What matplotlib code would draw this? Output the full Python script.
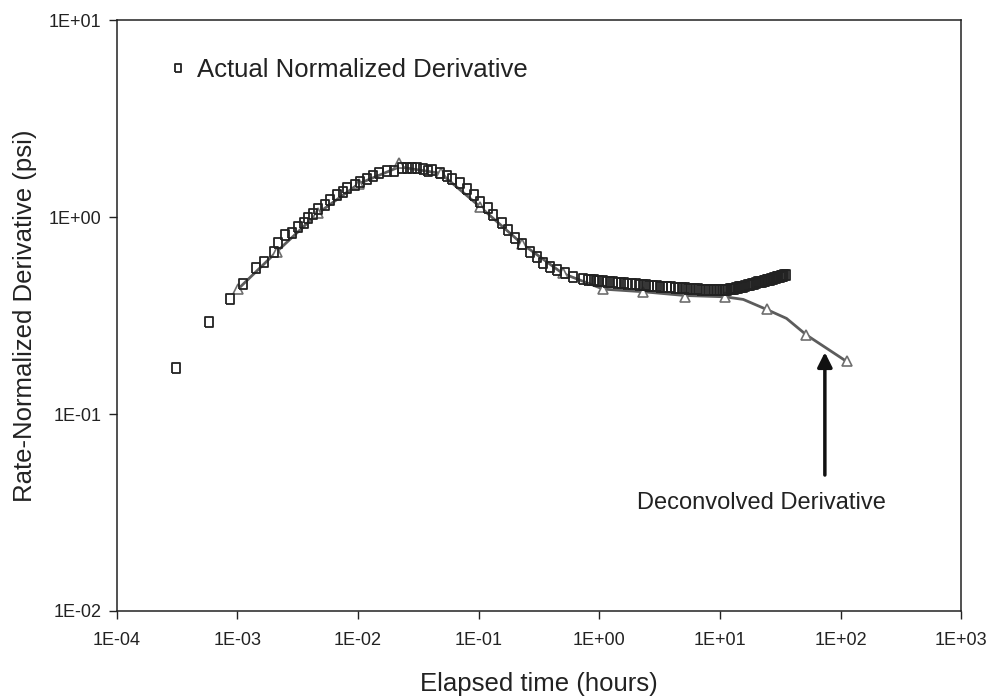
import matplotlib
matplotlib.use('Agg')
import matplotlib.pyplot as plt

# ── data ─────────────────────────────────────────────────────────────────────

actual_t = [3.10e-4, 5.83e-4, 8.71e-4, 1.11e-3, 1.43e-3, 1.66e-3, 2.01e-3, 2.17e-3,
            2.48e-3, 2.84e-3, 3.18e-3, 3.57e-3, 3.85e-3, 4.24e-3, 4.66e-3, 5.33e-3,
            5.86e-3, 6.70e-3, 7.51e-3, 8.11e-3, 9.44e-3, 1.04e-2, 1.19e-2, 1.33e-2,
            1.49e-2, 1.74e-2, 1.99e-2, 2.31e-2, 2.55e-2, 2.80e-2, 3.08e-2, 3.46e-2,
            3.80e-2, 4.08e-2, 4.78e-2, 5.43e-2, 5.97e-2, 7.00e-2, 8.05e-2, 9.14e-2,
            0.1025, 0.120, 0.132, 0.155, 0.176, 0.200, 0.227, 0.266, 0.303, 0.343,
            0.390, 0.443, 0.519, 0.608, 0.73,
            0.8, 0.85, 0.9, 0.95, 1.0, 1.07, 1.15, 1.22, 1.3, 1.4, 1.5, 1.6, 1.7,
            1.85, 2.0, 2.15, 2.3, 2.45, 2.6, 2.8, 3.0, 3.2, 3.4, 3.65, 3.9, 4.2,
            4.5, 4.8, 5.1, 5.4, 5.8, 6.2, 6.6, 7.0, 7.5, 8.0, 8.5, 9.0, 9.5, 10.0,
            10.5, 11.0, 11.5, 12.0, 12.5, 13.0, 13.5, 14.0, 14.5, 15.0, 15.5, 16.2,
            17.0, 17.7, 18.5, 19.2, 20.0, 20.7, 21.5, 22.2, 23.0, 23.7, 24.5, 25.2,
            26.0, 26.7, 27.5, 28.2, 29.0, 29.7, 30.5, 31.2, 32.0, 32.7, 33.5, 34.2,
            35.0]
actual_d = [0.171, 0.293, 0.384, 0.457, 0.551, 0.591, 0.664, 0.738,
            0.811, 0.830, 0.890, 0.933, 0.989, 1.035, 1.10, 1.15,
            1.22, 1.29, 1.34, 1.40, 1.45, 1.51, 1.56, 1.62,
            1.67, 1.71, 1.71, 1.78, 1.78, 1.78, 1.78, 1.75,
            1.72, 1.73, 1.67, 1.62, 1.56, 1.49, 1.39, 1.29,
            1.19, 1.11, 1.02, 0.93, 0.859, 0.782, 0.729, 0.664, 0.626, 0.584,
            0.557, 0.538, 0.519, 0.496, 0.486,
            0.480, 0.478, 0.477, 0.475, 0.474, 0.472, 0.470, 0.469, 0.467, 0.465,
            0.463, 0.461, 0.460, 0.457, 0.455, 0.454, 0.452, 0.450, 0.449, 0.447,
            0.446, 0.444, 0.443, 0.441, 0.440, 0.438, 0.437, 0.436, 0.435, 0.433,
            0.432, 0.431, 0.430, 0.429, 0.428, 0.427, 0.427, 0.426, 0.426, 0.426,
            0.427, 0.428, 0.429, 0.430, 0.432, 0.434, 0.436, 0.438, 0.440, 0.442,
            0.444, 0.447, 0.450, 0.454, 0.457, 0.460, 0.463, 0.466, 0.468, 0.470,
            0.472, 0.475, 0.477, 0.479, 0.481, 0.484, 0.486, 0.489, 0.491, 0.494,
            0.496, 0.498, 0.500, 0.502, 0.504, 0.506, 0.508]

deconv_t = [1.01e-3, 2.12e-3, 4.69e-3, 1.02e-2, 2.20e-2, 4.84e-2, 0.1026, 0.231,
            0.497, 1.08, 2.31, 5.12, 11.0, 24.3, 52.1, 112.0]
deconv_d = [0.430, 0.667, 1.05, 1.48, 1.89, 1.67, 1.13, 0.729,
            0.518, 0.431, 0.418, 0.394, 0.394, 0.340, 0.252, 0.185]

# smooth line drawn under the triangles
line_t = [1.01e-3, 2.12e-3, 4.69e-3, 1.02e-2, 2.20e-2, 4.84e-2, 0.1026, 0.231,
          0.497, 1.08, 2.31, 5.12, 11.0, 15.6, 24.3, 35.6, 52.1, 112.0]
line_d = [0.430, 0.667, 1.05, 1.48, 1.80, 1.67, 1.13, 0.729,
          0.518, 0.431, 0.418, 0.400, 0.394, 0.382, 0.340, 0.306, 0.252, 0.185]

decades = [1e-4, 1e-3, 1e-2, 1e-1, 1e0, 1e1, 1e2, 1e3]
x_labels = ['1E-04', '1E-03', '1E-02', '1E-01', '1E+00', '1E+01', '1E+02', '1E+03']
y_decades = [1e-2, 1e-1, 1e0, 1e1]
y_labels = ['1E-02', '1E-01', '1E+00', '1E+01']

arrow_t = 74.0
arrow_tip, arrow_tail = 0.206, 0.049

# ── figure ───────────────────────────────────────────────────────────────────

plt.rcParams['font.family'] = ['Liberation Sans', 'DejaVu Sans']

fig = plt.figure(figsize=(9.88, 6.99), dpi=100)
ax = fig.add_axes([0.118, 0.126, 0.855, 0.845])

rect = [(-0.35, -0.5), (0.35, -0.5), (0.35, 0.5), (-0.35, 0.5), (-0.35, -0.5)]

ax.plot(line_t, line_d, color='#5c5c5c', lw=2.0, zorder=2)
ax.plot(deconv_t, deconv_d, ls='none', marker='^', ms=6.8, mfc='white',
        mec='#6e6e6e', mew=1.2, zorder=3)
sq, = ax.plot(actual_t, actual_d, ls='none', marker=rect, ms=7.8, mfc='none',
              mec='#222222', mew=1.3, zorder=4)

ax.set_xscale('log')
ax.set_yscale('log')
ax.set_xlim(1e-4, 1e3)
ax.set_ylim(1e-2, 1e1)
ax.set_xticks(decades)
ax.set_xticklabels(x_labels)
ax.set_yticks(y_decades)
ax.set_yticklabels(y_labels)
ax.minorticks_off()
ax.tick_params(axis='both', direction='out', length=6, width=1.0,
               labelsize=13, colors='#222222')
ax.tick_params(axis='x', pad=9)
ax.tick_params(axis='y', pad=5)
for s in ax.spines.values():
    s.set_color('#222222')
    s.set_linewidth(1.1)

ax.set_xlabel('Elapsed time (hours)', fontsize=18.5, color='#222222')
ax.set_ylabel('Rate-Normalized Derivative (psi)', fontsize=18.5, color='#222222')
ax.xaxis.set_label_coords(0.5, -0.104)
ax.yaxis.set_label_coords(-0.094, 0.5)

leg = ax.legend([sq], ['Actual Normalized Derivative'], loc='center left',
                bbox_to_anchor=(0.06, 0.915), frameon=False, fontsize=18.5,
                handlelength=0.8, handletextpad=0.35, markerscale=0.7,
                borderaxespad=0, borderpad=0)
for t in leg.get_texts():
    t.set_color('#222222')

ax.annotate('', xy=(arrow_t, arrow_tip), xytext=(arrow_t, arrow_tail),
            arrowprops=dict(arrowstyle='-|>', color='#111111', lw=2.5,
                            mutation_scale=22, shrinkA=0, shrinkB=0))
ax.text(22.2, 0.0353, 'Deconvolved Derivative', ha='center', va='center',
        fontsize=17, color='#222222')

fig.savefig('out.png', dpi=100)
